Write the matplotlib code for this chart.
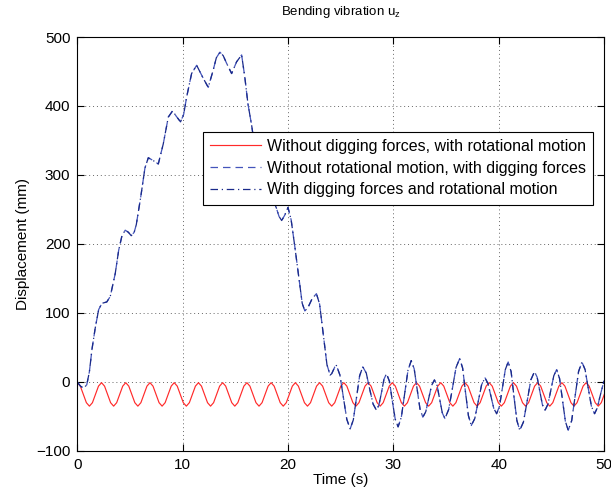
import numpy as np
import matplotlib.pyplot as plt

plt.rcParams['font.family'] = ['Liberation Sans', 'DejaVu Sans']

# --- data ---
labels = ['Without digging forces, with rotational motion',
          'Without rotational motion, with digging forces',
          'With digging forces and rotational motion']

# red curve, sampled every 0.2875 s (8 samples per 2.3 s swing)
red_step = 0.2875
red_y = [
    -1, -6, -18, -30, -35, -30, -18, -6,
    -1, -6, -18, -30, -35, -30, -18, -6,
    -1, -6, -18, -30, -35, -30, -18, -6,
    -1, -6, -18, -30, -35, -30, -18, -6,
    -1, -6, -18, -30, -35, -30, -18, -6,
    -1, -6, -18, -30, -35, -30, -18, -6,
    -1, -6, -18, -30, -35, -30, -18, -6,
    -1, -6, -18, -30, -35, -30, -18, -6,
    -1, -6, -18, -30, -35, -30, -18, -6,
    -1, -6, -18, -30, -35, -30, -18, -6,
    -1, -6, -18, -30, -35, -30, -18, -6,
    -1, -6, -18, -30, -35, -30, -18, -6,
    -1, -6, -18, -30, -35, -30, -18, -6,
    -1, -6, -18, -30, -35, -30, -18, -6,
    -1, -6, -18, -30, -35, -30, -18, -6,
    -1, -6, -18, -30, -35, -30, -18, -6,
    -1, -6, -18, -30, -35, -30, -18, -6,
    -1, -6, -18, -30, -35, -30, -18, -6,
    -1, -6, -18, -30, -35, -30, -18, -6,
    -1, -6, -18, -30, -35, -30, -18, -6,
    -1, -6, -18, -30, -35, -30, -18, -6,
    -1, -6, -18, -30, -35, -30, -18,
]
red_t = np.arange(len(red_y)) * red_step

# curves with digging forces (dashed and dash-dot lie on top of each other)
dig_t = [0.0, 0.3, 0.6, 0.9, 1.15, 1.4, 1.7, 2.03, 2.34, 2.8,
         3.13, 3.6, 3.93, 4.24, 4.55, 4.85, 5.12, 5.4, 5.6, 5.82,
         6.04, 6.42, 6.74, 7.2, 7.69, 8.16, 8.64, 9.05, 9.4, 9.8,
         10.1, 10.38, 10.85, 11.33, 11.96, 12.43, 12.9, 13.2, 13.54, 13.85,
         14.17, 14.65, 15.12, 15.6, 15.9, 16.2, 16.55, 16.9, 17.3, 17.7,
         18.1, 18.5, 18.9, 19.15, 19.4, 19.7, 20.0, 20.3, 20.65, 21.1,
         21.35, 21.6, 21.9, 22.3, 22.7, 23.0, 23.35, 23.7, 24.0, 24.15,
         24.3, 24.45, 24.6, 24.93, 25.25, 25.58, 25.9, 26.2, 26.5, 26.8,
         27.1, 27.43, 27.75, 28.08, 28.4, 28.64, 28.88, 29.11, 29.35, 29.63,
         29.9, 30.18, 30.45, 30.76, 31.08, 31.39, 31.7, 31.98, 32.25, 32.53,
         32.8, 33.08, 33.35, 33.63, 33.9, 34.15, 34.4, 34.65, 34.9, 35.25,
         35.6, 35.95, 36.3, 36.58, 36.85, 37.13, 37.4, 37.73, 38.05, 38.38,
         38.7, 38.98, 39.25, 39.53, 39.8, 40.08, 40.35, 40.63, 40.9, 41.18,
         41.45, 41.73, 42.0, 42.35, 42.7, 43.05, 43.4, 43.65, 43.9, 44.15,
         44.4, 44.68, 44.95, 45.23, 45.5, 45.78, 46.05, 46.33, 46.6, 46.93,
         47.25, 47.58, 47.9, 48.2, 48.5, 48.8, 49.1, 49.35, 49.6, 49.8,
         50.0]
dig_y = [0, -6, -9, -4, 15, 48, 78, 105, 114, 116,
         124, 157, 191, 212, 220, 217, 212, 217, 228, 249,
         270, 310, 325, 321, 316, 345, 384, 393, 385, 377,
         388, 413, 447, 459, 440, 427, 452, 470, 478, 473,
         462, 447, 464, 474, 442, 403, 372, 335, 300, 282,
         276, 268, 252, 240, 234, 242, 253, 235, 196, 143,
         114, 103, 108, 121, 128, 113, 69, 25, 10, 12,
         17, 22, 24, 10, -22, -54, -68, -55, -23, 9,
         22, 13, -10, -32, -41, -33, -15, 4, 12, 1,
         -27, -54, -65, -51, -17, 17, 31, 19, -10, -39,
         -51, -43, -24, -5, 3, -5, -25, -45, -53, -40,
         -10, 21, 34, 20, -15, -49, -63, -53, -29, -4,
         6, -2, -20, -38, -46, -35, -9, 18, 29, 15,
         -21, -56, -70, -58, -28, 3, 15, 7, -13, -33,
         -41, -32, -12, 9, 18, 5, -26, -57, -70, -56,
         -21, 15, 29, 18, -9, -35, -46, -38, -22, -10,
         2]

fig = plt.figure(figsize=(6.11, 4.98), dpi=100)
ax = fig.add_axes([0.1265, 0.0944, 0.8621, 0.8313])

ax.plot(red_t, red_y, color='#ff2a2a', lw=0.85, label=labels[0])
ax.plot(dig_t, dig_y, color='#4455bb', lw=0.9, dashes=(6, 4), label=labels[1])
ax.plot(dig_t, dig_y, color='#1a2a8a', lw=0.9, dashes=(6, 3, 1, 3), label=labels[2])

ax.set_xlim(0, 50)
ax.set_ylim(-100, 500)
ax.set_xticks(range(0, 51, 10))
ax.set_yticks(range(-100, 501, 100))
ax.tick_params(direction='in', top=True, right=True, length=5, width=0.8,
               labelsize=11, pad=5)
ax.grid(True, linestyle=(0, (1, 3)), color='0.4', lw=0.7)
for s in ax.spines.values():
    s.set_linewidth(0.8)

ax.set_xlabel('Time (s)', fontsize=11, labelpad=1)
ax.set_ylabel('Displacement (mm)', fontsize=11, labelpad=4)
ax.set_title(r'Bending vibration u$_\mathregular{z}$', fontsize=9.5, pad=16)

leg = ax.legend(loc='upper left', bbox_to_anchor=(0.238, 0.771), fontsize=11.5,
                frameon=True, fancybox=False, edgecolor='k', framealpha=1,
                handlelength=3.2, handletextpad=0.35, borderpad=0.45,
                labelspacing=0.42, borderaxespad=0)
leg.get_frame().set_linewidth(0.8)

fig.savefig('out.png', dpi=100)
